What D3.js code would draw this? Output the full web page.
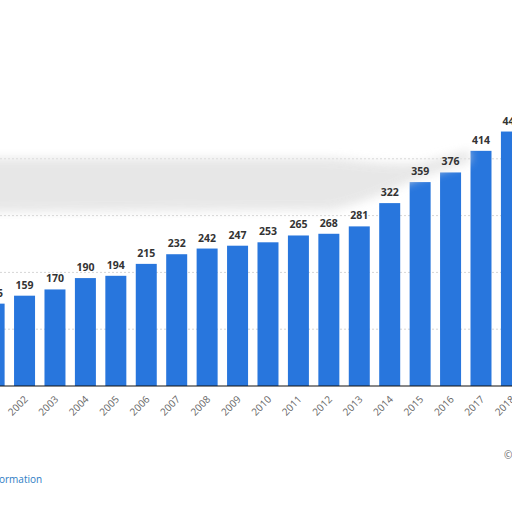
<!DOCTYPE html>
<html><head><meta charset="utf-8">
<script src="https://d3js.org/d3.v7.min.js"></script>
<style>body{margin:0;background:#fff}</style></head>
<body><svg id="c" width="512" height="512"></svg>
<script>
const years = ["2001","2002","2003","2004","2005","2006","2007","2008","2009","2010","2011","2012","2013","2014","2015","2016","2017","2018"];
const values = [145,159,170,190,194,215,232,242,247,253,265,268,281,322,359,376,414,448];
const gridTicks = [100,200,300,400];

const svg = d3.select("#c");
const step = 30.43, L = -21.1;
const x = d3.scaleBand().domain(years).range([L, L + years.length*step]).paddingInner(0.31).paddingOuter(0.155);
const y = d3.scaleLinear().domain([0,500]).range([386, 102]);

const defs = svg.append("defs");
defs.append("filter").attr("id","blur").append("feGaussianBlur").attr("stdDeviation",5);

svg.append("g").selectAll("line").data(gridTicks).join("line")
  .attr("x1",0).attr("x2",512).attr("y1",d=>y(d)).attr("y2",d=>y(d))
  .attr("stroke","#d6d6d6").attr("stroke-dasharray","2,2");

svg.append("g").selectAll("rect").data(values).join("rect")
  .attr("x",(d,i)=>x(years[i])).attr("width",x.bandwidth())
  .attr("y",d=>y(d)).attr("height",d=>y(0)-y(d)).attr("fill","#2876dd");

// blurred overlay band
svg.append("path").attr("d","M-20,158 L330,158 C360,160 380,165 420,163 L470,150 L470,162 L420,178 C390,190 360,205 330,210 L-20,212 Z")
  .attr("fill","#e2e2e2").attr("opacity",0.8).attr("filter","url(#blur)");

svg.append("g").selectAll("text").data(values).join("text")
  .attr("x",(d,i)=>x(years[i])+x.bandwidth()/2).attr("y",d=>y(d)-7)
  .attr("text-anchor","middle").attr("font-family","Open Sans, sans-serif")
  .attr("font-size",10.5).attr("font-weight","bold").attr("fill","#333").text(d=>d);

svg.append("line").attr("x1",0).attr("x2",512).attr("y1",y(0)).attr("y2",y(0)).attr("stroke","#111").attr("stroke-width",1.2);

svg.append("g").selectAll("text").data(years).join("text")
  .attr("transform",d=>`translate(${x(d)+x.bandwidth()/2+4},${y(0)+14}) rotate(-45)`)
  .attr("text-anchor","end").attr("font-family","Open Sans, sans-serif")
  .attr("font-size",10).attr("fill","#666").text(d=>d);

svg.append("text").attr("x",-1).attr("y",483).attr("font-family","Open Sans, sans-serif")
  .attr("font-size",10).attr("fill","#2d7cc4").text("ormation");
svg.append("text").attr("x",504).attr("y",459).attr("font-family","Open Sans, sans-serif")
  .attr("font-size",10).attr("fill","#666").text("©");
</script></body></html>
